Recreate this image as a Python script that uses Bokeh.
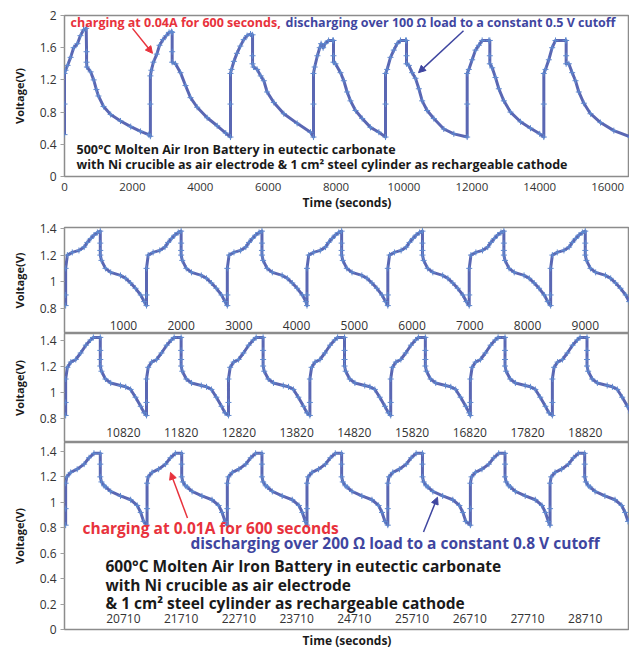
from bokeh.plotting import figure
from bokeh.layouts import column
from bokeh.models import FixedTicker, Label, Arrow, NormalHead, Range1d, Title
from bokeh.embed import file_html
from bokeh.resources import INLINE

FONT = "Open Sans"
LINE_COLOR = "#5A67B3"
MARK_COLOR = "#5F8AD0"
RED = "#E8323C"
BLUE = "#3F46A0"
BLACK = "#1A1A1A"
AXIS_TXT = "#333333"
FRAME = "#8C8C8C"

# ---------------- top panel (500 C) : time (s) / voltage (V) per cycle ----------------
top_c1_t = [0, 0, 0, 30, 90, 180, 270, 380, 470, 560, 640, 650, 650, 660, 770, 860, 940, 1000, 1150, 1360, 1650, 1950, 2240, 2480]
top_c1_v = [0.52, 0.90, 1.28, 1.32, 1.38, 1.48, 1.60, 1.65, 1.75, 1.82, 1.84, 1.55, 1.42, 1.36, 1.30, 1.20, 1.08, 1.00, 0.87, 0.77, 0.69, 0.62, 0.56, 0.52]
top_c2_t = [2530, 2530, 2530, 2560, 2620, 2720, 2800, 2900, 3000, 3080, 3150, 3172, 3172, 3172, 3270, 3417, 3565, 3712, 3908, 4203, 4498, 4750]
top_c2_v = [0.50, 0.90, 1.25, 1.32, 1.42, 1.52, 1.63, 1.70, 1.75, 1.79, 1.80, 1.79, 1.55, 1.42, 1.40, 1.29, 1.13, 0.98, 0.86, 0.73, 0.63, 0.54]
top_c3_t = [4890, 4890, 4890, 4920, 4990, 5080, 5180, 5280, 5380, 5480, 5540, 5540, 5540, 5570, 5676, 5780, 5872, 5970, 6167, 6461, 6854, 7247]
top_c3_v = [0.49, 0.90, 1.28, 1.33, 1.43, 1.53, 1.62, 1.70, 1.75, 1.77, 1.76, 1.50, 1.40, 1.36, 1.33, 1.25, 1.19, 1.05, 0.92, 0.78, 0.66, 0.55]
top_c4_t = [7335, 7335, 7335, 7370, 7450, 7520, 7560, 7620, 7680, 7780, 7900, 7925, 7925, 7925, 7984, 8131, 8229, 8327, 8426, 8573, 8770, 9015, 9261]
top_c4_v = [0.49, 0.90, 1.28, 1.36, 1.50, 1.60, 1.65, 1.60, 1.65, 1.69, 1.69, 1.69, 1.50, 1.42, 1.40, 1.29, 1.19, 1.05, 0.94, 0.82, 0.72, 0.61, 0.55]
top_c5_t = [9457, 9457, 9457, 9506, 9604, 9702, 9800, 9898, 10046, 10075, 10075, 10075, 10144, 10242, 10340, 10439, 10537, 10684, 10880, 11175, 11470]
top_c5_v = [0.49, 0.90, 1.28, 1.33, 1.48, 1.57, 1.65, 1.69, 1.69, 1.69, 1.50, 1.40, 1.38, 1.29, 1.22, 1.09, 0.94, 0.82, 0.72, 0.59, 0.53]
top_c6_t = [11863, 11863, 11863, 11912, 12010, 12108, 12206, 12305, 12500, 12530, 12530, 12530, 12600, 12697, 12795, 12943, 13139, 13434, 13728, 14000]
top_c6_v = [0.49, 0.90, 1.28, 1.33, 1.45, 1.57, 1.63, 1.69, 1.69, 1.69, 1.50, 1.40, 1.35, 1.23, 1.09, 0.94, 0.80, 0.68, 0.60, 0.53]
top_c7_t = [14121, 14121, 14121, 14170, 14268, 14367, 14465, 14760, 14779, 14779, 14779, 14858, 14956, 15054, 15152, 15300, 15496, 15791, 16183, 16675]
top_c7_v = [0.49, 0.90, 1.28, 1.33, 1.45, 1.60, 1.69, 1.69, 1.69, 1.50, 1.40, 1.40, 1.29, 1.19, 1.05, 0.91, 0.78, 0.67, 0.57, 0.49]

top_xticks = [0, 2000, 4000, 6000, 8000, 10000, 12000, 14000, 16000]
top_xlabels = ["0", "2000", "4000", "6000", "8000", "10000", "12000", "14000", "16000"]
top_yticks = [0, 0.4, 0.8, 1.2, 1.6, 2.0]
top_ylabels = ["0", "0.4", "0.8", "1.2", "1.6", "2"]

# ---------------- lower panels (600 C): one cycle read per strip + cycle start times ----------------
s1_cycle_dt = [0, 0, 0, 30, 115, 230, 320, 375, 435, 490, 550, 600, 600, 600, 600, 620, 690, 780, 950, 1040, 1125, 1210, 1300, 1360]
s1_cycle_v = [0.82, 0.90, 1.10, 1.20, 1.22, 1.235, 1.26, 1.295, 1.325, 1.35, 1.37, 1.38, 1.29, 1.235, 1.20, 1.16, 1.10, 1.07, 1.047, 1.025, 0.99, 0.95, 0.90, 0.85]
s1_starts = [0, 1400, 2800, 4180, 5580, 6990, 8400]
s1_xticks = [1000, 2000, 3000, 4000, 5000, 6000, 7000, 8000, 9000]
s1_xlabels = ["1000", "2000", "3000", "4000", "5000", "6000", "7000", "8000", "9000"]

s2_cycle_dt = [0, 0, 0, 30, 90, 175, 260, 350, 430, 480, 600, 600, 600, 600, 620, 690, 780, 950, 1040, 1125, 1210, 1300, 1360]
s2_cycle_v = [0.82, 0.92, 1.10, 1.19, 1.23, 1.25, 1.30, 1.36, 1.40, 1.42, 1.42, 1.32, 1.25, 1.20, 1.16, 1.10, 1.07, 1.05, 1.04, 1.02, 0.96, 0.89, 0.84]
s2_starts = [9820, 11220, 12640, 14050, 15450, 16830, 18250]
s2_xticks = [10820, 11820, 12820, 13820, 14820, 15820, 16820, 17820, 18820]
s2_xlabels = ["10820", "11820", "12820", "13820", "14820", "15820", "16820", "17820", "18820"]

s3_cycle_dt = [0, 0, 0, 20, 87, 200, 320, 405, 490, 600, 600, 600, 620, 665, 695, 780, 950, 1125, 1240, 1300, 1350]
s3_cycle_v = [0.82, 0.95, 1.15, 1.20, 1.235, 1.26, 1.30, 1.35, 1.385, 1.385, 1.30, 1.20, 1.16, 1.13, 1.12, 1.085, 1.05, 1.02, 0.975, 0.92, 0.85]
s3_starts = [19710, 21120, 22510, 23890, 25290, 26720, 28100]
s3_xticks = [20710, 21710, 22710, 23710, 24710, 25710, 26710, 27710, 28710]
s3_xlabels = ["20710", "21710", "22710", "23710", "24710", "25710", "26710", "27710", "28710"]

strip_yticks = [0.8, 1.0, 1.2, 1.4]
strip_ylabels = ["0.8", "1", "1.2", "1.4"]
s3_yticks = [0, 0.2, 0.4, 0.6, 0.8, 1.0, 1.2, 1.4]
s3_ylabels = ["0", "0.2", "0.4", "0.6", "0.8", "1", "1.2", "1.4"]

W = 629
LEFT = 64


def cycles(starts, dt, v):
    xs, ys = [], []
    for s in starts:
        xs += [s + d for d in dt]
        ys += list(v)
    return xs, ys


def base_fig(height, xr, yr, top, bottom):
    p = figure(width=W, height=height, x_range=Range1d(*xr), y_range=Range1d(*yr),
               output_backend="svg", toolbar_location=None,
               min_border_left=LEFT, min_border_right=0,
               min_border_top=top, min_border_bottom=bottom)
    p.outline_line_color = FRAME
    p.outline_line_width = 1.5
    p.xgrid.visible = False
    p.ygrid.visible = False
    for ax in p.yaxis:
        ax.axis_line_color = None
        ax.major_tick_line_color = "#A0A0A0"
        ax.major_tick_in = 0
        ax.major_tick_out = 4
        ax.minor_tick_line_color = None
        ax.major_label_standoff = 4
        ax.major_label_text_font = FONT
        ax.major_label_text_font_size = "12px"
        ax.major_label_text_color = AXIS_TXT
        ax.axis_label = "Voltage(V)"
        ax.axis_label_text_font = FONT
        ax.axis_label_text_font_style = "bold"
        ax.axis_label_text_font_size = "11px"
        ax.axis_label_text_color = BLACK
        ax.axis_label_standoff = 10
    for ax in p.xaxis:
        ax.axis_line_color = None
        ax.major_tick_line_color = None
        ax.minor_tick_line_color = None
        ax.major_label_text_font = FONT
        ax.major_label_text_color = AXIS_TXT
    return p


def draw_curve(p, xs, ys):
    p.line(xs, ys, line_color=LINE_COLOR, line_width=3, line_join="round")
    p.scatter(xs, ys, marker="cross", size=6, line_color=MARK_COLOR, line_width=1)


def set_ticks(ax, ticks, labels):
    ax.ticker = FixedTicker(ticks=ticks)
    ax.major_label_overrides = {t: l for t, l in zip(ticks, labels)}


def label(p, x, y, text, color, size):
    p.add_layout(Label(x=x, y=y, text=text, text_color=color, text_font=FONT,
                       text_font_style="bold", text_font_size=size, text_baseline="middle"))


def arrow(p, x0, y0, x1, y1, color):
    p.add_layout(Arrow(end=NormalHead(size=7, fill_color=color, line_color=color),
                       x_start=x0, y_start=y0, x_end=x1, y_end=y1,
                       line_color=color, line_width=1.5))


# ---------- top figure ----------
top = base_fig(220, (0, 16645), (0, 2.0), 15, 44)
top_t = top_c1_t + top_c2_t + top_c3_t + top_c4_t + top_c5_t + top_c6_t + top_c7_t
top_v = top_c1_v + top_c2_v + top_c3_v + top_c4_v + top_c5_v + top_c6_v + top_c7_v
draw_curve(top, top_t, top_v)
set_ticks(top.yaxis[0], top_yticks, top_ylabels)
set_ticks(top.xaxis[0], top_xticks, top_xlabels)
top.xaxis.major_label_text_font_size = "11.5px"
top.xaxis.major_label_standoff = 0
top.xaxis.axis_label = "Time (seconds)"
top.xaxis.axis_label_text_font = FONT
top.xaxis.axis_label_text_font_style = "bold"
top.xaxis.axis_label_text_font_size = "12px"
top.xaxis.axis_label_text_color = BLACK
top.xaxis.axis_label_standoff = 0

label(top, 177, 1.913, "charging at 0.04A for 600 seconds,", RED, "12.5px")
label(top, 6511, 1.913, "discharging over 100 \u03a9 load to a constant 0.5 V cutoff", BLUE, "12.5px")
label(top, 354, 0.335, "500\u00b0C Molten Air Iron Battery in eutectic carbonate", BLACK, "12.5px")
label(top, 354, 0.149, "with Ni crucible as air electrode & 1 cm\u00b2 steel cylinder as rechargeable cathode", BLACK, "12.5px")
arrow(top, 2003, 1.84, 2592, 1.53, RED)
arrow(top, 11755, 1.81, 10429, 1.29, BLUE)

# ---------- strips ----------
def strip(height, xr, yr, top_b, bottom_b, starts, dt, v, xticks, xlabels, yticks, ylabels, axis_loc):
    p = base_fig(height, xr, yr, top_b, bottom_b)
    xs, ys = cycles(starts, dt, v)
    draw_curve(p, xs, ys)
    set_ticks(p.yaxis[0], yticks, ylabels)
    set_ticks(p.xaxis[0], xticks, xlabels)
    p.xaxis.fixed_location = axis_loc
    p.xaxis.major_label_standoff = 2
    p.xaxis.major_label_text_font_size = "12px"
    return p

s1 = strip(113, (-20, 9766), (0.61, 1.4075), 7, 0, s1_starts, s1_cycle_dt, s1_cycle_v,
           s1_xticks, s1_xlabels, strip_yticks, strip_ylabels, 0.765)
s2 = strip(109, (9800, 19586), (0.612, 1.45), 0, 0, s2_starts, s2_cycle_dt, s2_cycle_v,
           s2_xticks, s2_xlabels, strip_yticks, strip_ylabels, 0.785)
s3 = strip(206, (19690, 29476), (0, 1.47), 0, 18, s3_starts, s3_cycle_dt, s3_cycle_v,
           s3_xticks, s3_xlabels, s3_yticks, s3_ylabels, 0.182)
s3.add_layout(Title(text="Time (seconds)", align="center", text_font=FONT, text_font_style="bold",
                    text_font_size="12px", text_color=BLACK, standoff=0), "below")

label(s3, 20002, 0.797, "charging at 0.01A for 600 seconds", RED, "15.5px")
label(s3, 21872, 0.680, "discharging over 200 \u03a9 load to a constant 0.8 V cutoff", BLUE, "15.5px")
label(s3, 20400, 0.500, "600\u00b0C Molten Air Iron Battery in eutectic carbonate", BLACK, "15.5px")
label(s3, 20400, 0.352, "with Ni crucible as air electrode", BLACK, "15.5px")
label(s3, 20400, 0.211, "& 1 cm\u00b2 steel cylinder as rechargeable cathode", BLACK, "15.5px")
arrow(s3, 21820, 0.876, 21526, 1.235, RED)
arrow(s3, 25908, 0.766, 26150, 1.040, BLUE)

layout = column(top, s1, s2, s3)
open("out.html", "w").write(file_html(layout, INLINE))
